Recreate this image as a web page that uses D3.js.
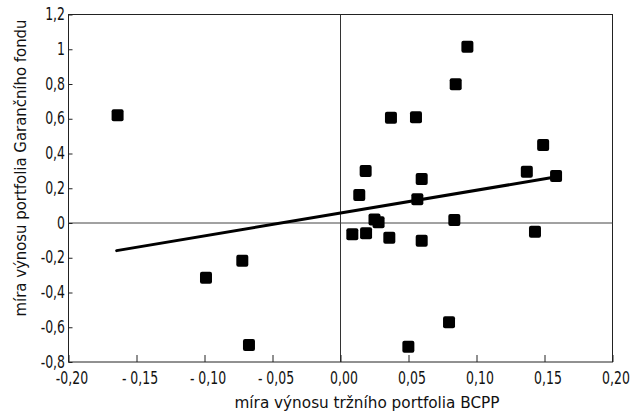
<!DOCTYPE html>
<html><head><meta charset="utf-8">
<script src="https://cdn.jsdelivr.net/npm/d3@7"></script>
<style>html,body{margin:0;padding:0;background:#fff;}</style>
</head><body>
<svg id="chart" width="634" height="416"></svg>
<script>
const xVals = [-0.1639, -0.0989, -0.0722, -0.0673, 0.0087, 0.0188, 0.025, 0.028, 0.0359, 0.0597, 0.0837, 0.143, 0.0798, 0.0499, 0.0933, 0.0847, 0.0371, 0.0555, 0.149, 0.0185, 0.137, 0.0597, 0.1585, 0.0138, 0.0565];
const yVals = [0.62, -0.315, -0.217, -0.702, -0.065, -0.059, 0.02, 0.005, -0.085, -0.102, 0.017, -0.05, -0.571, -0.712, 1.015, 0.798, 0.606, 0.608, 0.449, 0.299, 0.295, 0.253, 0.27, 0.161, 0.136];
const lineX = [-0.1646, 0.159];
const lineY = [-0.159, 0.266];
const xTicks = [-0.20, -0.15, -0.10, -0.05, 0.00, 0.05, 0.10, 0.15, 0.20];
const xTickLabels = ["-0,20", "- 0,15", "- 0,10", "- 0,05", "0,00", "0,05", "0,10", "0,15", "0,20"];
const yTicks = [1.2, 1, 0.8, 0.6, 0.4, 0.2, 0, -0.2, -0.4, -0.6, -0.8];
const yTickLabels = ["1,2", "1", "0,8", "0,6", "0,4", "0,2", "0", "-0,2", "-0,4", "-0,6", "-0,8"];
const xTitle = "míra výnosu tržního portfolia BCPP";
const yTitle = "míra výnosu portfolia Garančního fondu";

const svg = d3.select("#chart");
const L = 68.5, R = 612.5, T = 14.5, B = 362;
const x = d3.scaleLinear().domain([-0.2, 0.2]).range([L, R]);
const y = d3.scaleLinear().domain([-0.8, 1.2]).range([B, T]);
const font = "'DejaVu Sans Condensed', 'DejaVu Sans', sans-serif";
const sx = 0.75; // horizontal squeeze for narrow lettering
const fs = 18.5;

// frame
svg.append("rect").attr("x", L).attr("y", T).attr("width", R - L).attr("height", B - T)
  .attr("fill", "none").attr("stroke", "#222").attr("stroke-width", 1);

// zero lines
svg.append("line").attr("x1", x(0)).attr("x2", x(0)).attr("y1", T).attr("y2", B)
  .attr("stroke", "#333").attr("stroke-width", 1);
svg.append("line").attr("x1", L).attr("x2", R).attr("y1", y(0)).attr("y2", y(0))
  .attr("stroke", "#444").attr("stroke-width", 1);

// x axis (ticks inward)
const xAxis = d3.axisBottom(x).tickValues(xTicks).tickSize(-7).tickPadding(4)
  .tickFormat((d, i) => xTickLabels[i]);
const gx = svg.append("g").attr("transform", `translate(0,${B})`).call(xAxis);
gx.select(".domain").remove();
gx.selectAll("line").attr("stroke", "#222");
gx.selectAll("text").attr("font-family", font).attr("font-size", fs).attr("fill", "#111")
  .attr("x", 3 / sx).attr("y", 22.5).attr("dy", 0).attr("transform", `scale(${sx},1)`);

// y axis
const yAxis = d3.axisLeft(y).tickValues(yTicks).tickSize(-4).tickPadding(6)
  .tickFormat((d, i) => yTickLabels[i]);
const gy = svg.append("g").attr("transform", `translate(${L},0)`).call(yAxis);
gy.select(".domain").remove();
gy.selectAll("line").attr("stroke", "#222");
gy.selectAll("text").attr("font-family", font).attr("font-size", fs).attr("fill", "#111")
  .attr("x", -3.5 / sx).attr("dy", "0.28em").attr("transform", `scale(${sx},1)`);

// regression line
svg.append("line").attr("x1", x(lineX[0])).attr("y1", y(lineY[0]))
  .attr("x2", x(lineX[1])).attr("y2", y(lineY[1]))
  .attr("stroke", "#000").attr("stroke-width", 3).attr("stroke-linecap", "round");

// points
const s = 12;
svg.append("g").selectAll("rect").data(xVals.map((v, i) => [v, yVals[i]])).join("rect")
  .attr("x", d => x(d[0]) - s / 2).attr("y", d => y(d[1]) - s / 2)
  .attr("width", s).attr("height", s).attr("rx", 2).attr("fill", "#000");

// titles
svg.append("text").attr("x", 367).attr("y", 408).attr("text-anchor", "middle")
  .attr("font-family", font).attr("font-size", 16).attr("fill", "#111")
  .attr("textLength", 265).attr("lengthAdjust", "spacingAndGlyphs").text(xTitle);
svg.append("text").attr("transform", "translate(26,168) rotate(-90)").attr("text-anchor", "middle")
  .attr("font-family", font).attr("font-size", 16).attr("fill", "#111")
  .attr("textLength", 297).attr("lengthAdjust", "spacingAndGlyphs").text(yTitle);
</script>
</body></html>
